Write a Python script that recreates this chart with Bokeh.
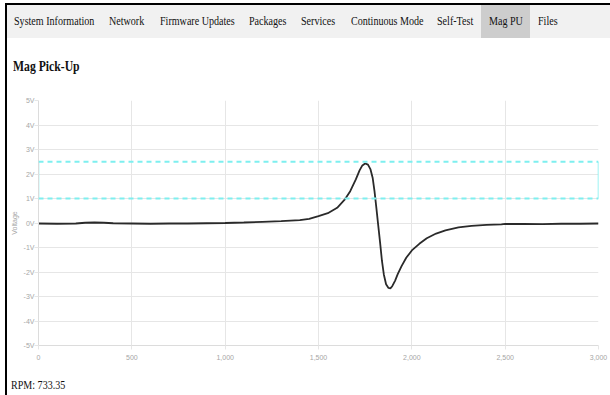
from bokeh.plotting import figure
from bokeh.models import Div, Range1d, FixedTicker, Span
from bokeh.layouts import column
from bokeh.embed import file_html
from bokeh.resources import INLINE

# ---------------- data ----------------
nav_items = ["System Information", "Network", "Firmware Updates", "Packages",
             "Services", "Continuous Mode", "Self-Test", "Mag PU", "Files"]
active_item = "Mag PU"
page_title = "Mag Pick-Up"
rpm_text = "RPM: 733.35"

signal_x = [0, 100, 200, 250, 300, 350, 400, 500, 600, 700, 800, 900, 1000,
            1100, 1200, 1300, 1400, 1450, 1500, 1550, 1600, 1640, 1670, 1700,
            1720, 1735, 1750, 1765, 1778, 1790, 1800, 1810, 1820, 1830, 1840,
            1850, 1862, 1875, 1885, 1895, 1910, 1925, 1945, 1970, 2000, 2040,
            2080, 2130, 2180, 2250, 2320, 2400, 2480, 2500, 2600, 2700, 2800,
            2900, 3000]
signal_v = [-0.02, -0.03, -0.02, 0.01, 0.02, 0.01, -0.01, -0.02, -0.03, -0.02,
            -0.02, -0.01, 0.0, 0.02, 0.05, 0.08, 0.12, 0.17, 0.28, 0.40, 0.62,
            0.95, 1.30, 1.78, 2.15, 2.35, 2.43, 2.38, 2.20, 1.85, 1.30, 0.62,
            -0.10, -0.80, -1.55, -2.10, -2.50, -2.65, -2.67, -2.58, -2.36,
            -2.08, -1.76, -1.42, -1.12, -0.85, -0.62, -0.43, -0.30, -0.18,
            -0.12, -0.08, -0.06, -0.04, -0.04, -0.05, -0.03, -0.03, -0.02]

thresholds = [1.0, 2.5]

x_ticks = [0, 500, 1000, 1500, 2000, 2500, 3000]
x_tick_labels = ["0", "500", "1,000", "1,500", "2,000", "2,500", "3,000"]
y_ticks = [-5, -4, -3, -2, -1, 0, 1, 2, 3, 4, 5]
y_tick_labels = ["-5V", "-4V", "-3V", "-2V", "-1V", "0V", "1V", "2V", "3V", "4V", "5V"]
y_axis_title = "Voltage"

# ---------------- layout constants ----------------
nav_lefts = [7, 102, 153, 242, 294, 344, 430, 482, 531]
active_box = (474, 49)
SERIF = "'Liberation Serif', 'Times New Roman', serif"


def span(text, left, top, size, weight="normal", sx=0.84):
    return (f"<span style=\"position:absolute;left:{left}px;top:{top}px;"
            f"font-family:{SERIF};font-size:{size}px;font-weight:{weight};"
            f"line-height:1;white-space:nowrap;color:#111;"
            f"transform:scaleX({sx});transform-origin:left center;\">{text}</span>")


nav_html = "<div style=\"position:relative;width:603px;height:33px;\">"
nav_html += (f"<div style=\"position:absolute;left:{active_box[0]}px;top:0;"
             f"width:{active_box[1]}px;height:33px;background:#cdcdcd;\"></div>")
for label, left in zip(nav_items, nav_lefts):
    nav_html += span(label, left, 10, 12)
nav_html += "</div>"

nav = Div(text=nav_html, width=603, height=33, margin=0,
          styles={"background-color": "#f1f1f1", "overflow": "hidden"})

title = Div(text="<div style=\"position:relative;width:603px;height:50px;\">"
            + span(page_title, 6, 21, 15, weight="bold", sx=0.78) + "</div>",
            width=603, height=50, margin=0, styles={"overflow": "hidden"})

rpm = Div(text="<div style=\"position:relative;width:603px;height:25px;\">"
          + span(rpm_text, 4, 9, 12) + "</div>",
          width=603, height=25, margin=0, styles={"overflow": "hidden"})

p = figure(frame_width=560, frame_height=245,
           min_border_left=30, min_border_right=13, min_border_top=12,
           min_border_bottom=25, margin=0,
           x_range=Range1d(x_ticks[0], x_ticks[-1]),
           y_range=Range1d(y_ticks[0], y_ticks[-1]),
           output_backend="svg", toolbar_location=None,
           background_fill_color="white", border_fill_color="white")
p.outline_line_color = None

grid_color = "#e6e6e6"
label_color = "#a6a6a6"
p.xaxis.ticker = FixedTicker(ticks=x_ticks)
p.yaxis.ticker = FixedTicker(ticks=y_ticks)
p.xaxis.major_label_overrides = {t: l for t, l in zip(x_ticks, x_tick_labels)}
p.yaxis.major_label_overrides = {t: l for t, l in zip(y_ticks, y_tick_labels)}
for ax in (p.xaxis, p.yaxis):
    ax.axis_line_color = "#dcdcdc"
    ax.major_tick_line_color = grid_color
    ax.minor_tick_line_color = None
    ax.major_tick_in = 0
    ax.major_tick_out = 4
    ax.major_label_text_color = label_color
    ax.major_label_text_font = "Liberation Sans"
    ax.major_label_text_font_size = "7px"
p.xaxis.major_label_standoff = 5
p.yaxis.major_label_standoff = 0
p.yaxis.axis_label = y_axis_title
p.yaxis.axis_label_text_font = "Liberation Sans"
p.yaxis.axis_label_text_font_size = "7px"
p.yaxis.axis_label_text_font_style = "normal"
p.yaxis.axis_label_text_color = label_color
p.yaxis.axis_label_standoff = 3
p.xgrid.grid_line_color = grid_color
p.ygrid.grid_line_color = grid_color

cyan = "#7eefef"
for t in thresholds:
    p.add_layout(Span(location=t, dimension="width", line_color=cyan,
                      line_width=2, line_dash="5 4"))
p.segment(x0=[x_ticks[0], x_ticks[-1]], y0=[min(thresholds)] * 2,
          x1=[x_ticks[0], x_ticks[-1]], y1=[max(thresholds)] * 2,
          line_color=cyan, line_width=1.5)

p.line(signal_x, signal_v, line_color="#2a2a2a", line_width=1.8)

root = column(nav, title, p, rpm, margin=0, spacing=0,
              styles={"position": "absolute", "top": "3px", "left": "5px",
                      "border-top": "2px solid #000", "border-left": "2px solid #000"})

open("out.html", "w").write(file_html(root, INLINE))
